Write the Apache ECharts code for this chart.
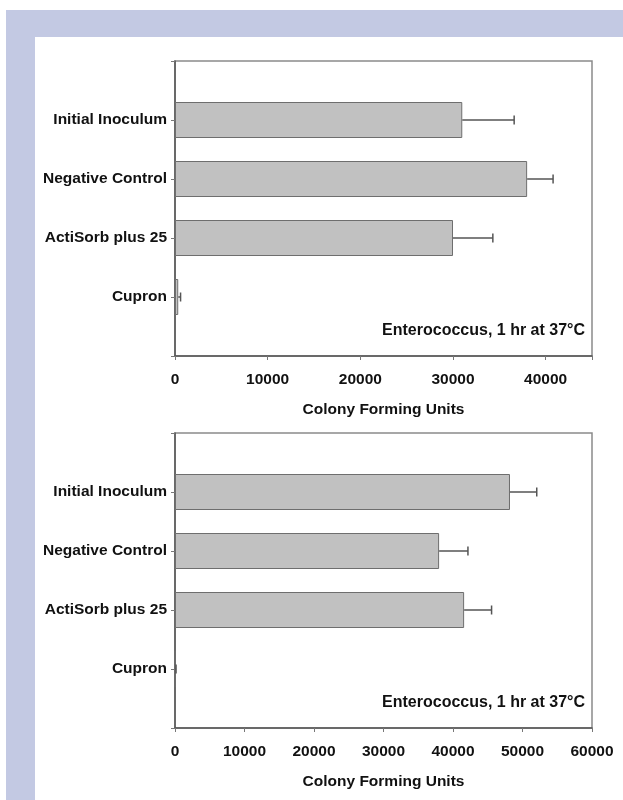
<!DOCTYPE html>
<html>
<head>
<meta charset="utf-8">
<script src="https://cdn.jsdelivr.net/npm/echarts@6/dist/echarts.min.js"></script>
<style>
html, body { margin: 0; padding: 0; background: #ffffff; width: 623px; height: 800px; overflow: hidden; }
#frame { position: absolute; left: 6px; top: 10px; width: 617px; height: 790px; background: #c3c9e3; }
#inner { position: absolute; left: 35px; top: 37px; width: 588px; height: 763px; background: #ffffff; }
#chart { position: absolute; left: 0; top: 0; width: 623px; height: 800px; }
</style>
</head>
<body>
<div id="frame"></div>
<div id="inner"></div>
<div id="chart"></div>
<script>
// Categories, top to bottom as shown
const categories = ['Initial Inoculum', 'Negative Control', 'ActiSorb plus 25', 'Cupron'];

// Top panel values (Colony Forming Units) and error (+SD)
const topValues = [31000, 38000, 30000, 350];
const topErrors = [5600, 2800, 4300, 250];

// Bottom panel values and error
const bottomValues = [48200, 38000, 41600, 30];
const bottomErrors = [3850, 4150, 3950, 120];

// Axis ticks
const topTicks = [0, 10000, 20000, 30000, 40000];
const bottomTicks = [0, 10000, 20000, 30000, 40000, 50000, 60000];

const axisTitle = 'Colony Forming Units';
const annotation = 'Enterococcus, 1 hr at 37°C';

const FONT = 'Liberation Sans, Arial, sans-serif';
// category axis with padding slots at both ends (bottom-to-top order)
const yCats = [''].concat(categories.slice().reverse()).concat(['']);

function errRender(params, api) {
  const y = api.value(1);
  const p0 = api.coord([api.value(0), y]);
  const p1 = api.coord([api.value(2), y]);
  const cap = 4.5;
  return {
    type: 'group',
    children: [
      { type: 'line', shape: { x1: p0[0], y1: p0[1], x2: p1[0], y2: p1[1] }, style: { stroke: '#555', lineWidth: 1.5 } },
      { type: 'line', shape: { x1: p1[0], y1: p1[1] - cap, x2: p1[0], y2: p1[1] + cap }, style: { stroke: '#555', lineWidth: 1.5 } }
    ]
  };
}

function makeX(gridIndex, max, ticks) {
  return {
    type: 'value', gridIndex: gridIndex, min: 0, max: max, interval: 10000,
    splitLine: { show: false },
    axisLine: { show: true, lineStyle: { color: '#555', width: 1.5 } },
    axisTick: { show: true, length: 4, lineStyle: { color: '#777', width: 1 } },
    axisLabel: {
      margin: 16, color: '#111', fontFamily: FONT, fontWeight: 'bold', fontSize: 15.5,
      formatter: function (v) { return ticks.indexOf(v) >= 0 ? String(v) : ''; }
    },
    name: axisTitle, nameLocation: 'middle', nameGap: 46,
    nameTextStyle: { color: '#111', fontFamily: FONT, fontWeight: 'bold', fontSize: 15.5 }
  };
}

function makeY(gridIndex) {
  return {
    type: 'category', gridIndex: gridIndex, data: yCats, boundaryGap: false,
    axisLine: { show: true, lineStyle: { color: '#555', width: 1.5 } },
    axisTick: { show: true, length: 4, lineStyle: { color: '#777', width: 1 } },
    axisLabel: { margin: 8, color: '#111', fontFamily: FONT, fontWeight: 'bold', fontSize: 15.5, interval: 0 },
    splitLine: { show: false }
  };
}

function barSeries(idx, values) {
  return {
    type: 'bar', xAxisIndex: idx, yAxisIndex: idx, barWidth: 36,
    data: categories.map((c, i) => [values[i], c]),
    itemStyle: { color: '#c1c1c1', borderColor: '#6e6e6e', borderWidth: 1 },
    silent: true, animation: false, z: 2
  };
}

function errSeries(idx, values, errs) {
  return {
    type: 'custom', xAxisIndex: idx, yAxisIndex: idx,
    data: categories.map((c, i) => [values[i], c, values[i] + errs[i]]),
    encode: { x: [0, 2], y: 1 },
    renderItem: errRender, silent: true, animation: false, z: 3
  };
}

const chart = echarts.init(document.getElementById('chart'), null, { renderer: 'canvas' });
chart.setOption({
  backgroundColor: 'transparent',
  animation: false,
  grid: [
    { left: 175, top: 61, width: 417, height: 295, show: true, borderColor: '#8a8a8a', borderWidth: 1.5, backgroundColor: 'transparent' },
    { left: 175, top: 433, width: 417, height: 295, show: true, borderColor: '#8a8a8a', borderWidth: 1.5, backgroundColor: 'transparent' }
  ],
  xAxis: [makeX(0, 45000, topTicks), makeX(1, 60000, bottomTicks)],
  yAxis: [makeY(0), makeY(1)],
  series: [
    barSeries(0, topValues), errSeries(0, topValues, topErrors),
    barSeries(1, bottomValues), errSeries(1, bottomValues, bottomErrors)
  ],
  graphic: [
    { type: 'text', right: 38, top: 323, style: { text: annotation, fill: '#111', font: 'bold 16px ' + FONT, textAlign: 'right' } },
    { type: 'text', right: 38, top: 695, style: { text: annotation, fill: '#111', font: 'bold 16px ' + FONT, textAlign: 'right' } }
  ]
});
</script>
</body>
</html>
